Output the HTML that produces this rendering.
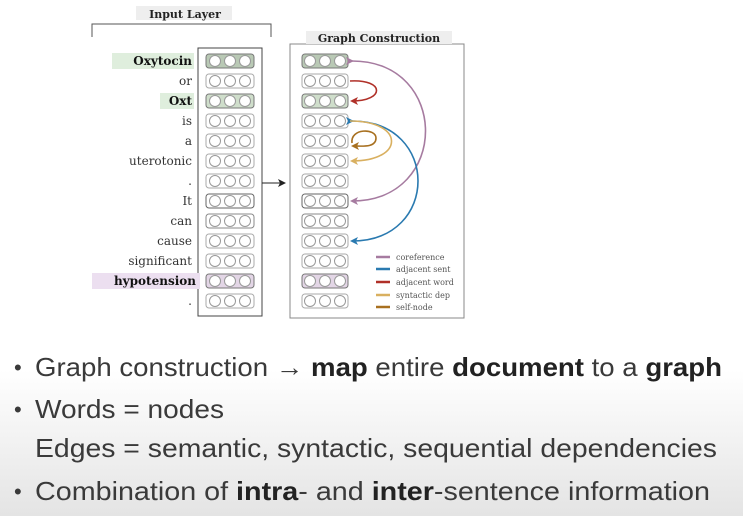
<!DOCTYPE html>
<html><head><meta charset="utf-8"><style>
html,body{margin:0;padding:0;width:743px;height:516px;overflow:hidden;background:linear-gradient(#fff 0,#fff 370px,#e4e4e4 516px);}
svg{display:block}
</style></head><body>
<svg width="743" height="516" xmlns="http://www.w3.org/2000/svg" font-family="DejaVu Serif, Liberation Serif, serif">
<defs>
<marker id="mp" markerWidth="8" markerHeight="8" refX="6" refY="4" orient="auto" markerUnits="userSpaceOnUse"><path d="M0,0 L8,4 L0,8 L2,4z" fill="#a67ba0"/></marker>
<marker id="mb" markerWidth="8" markerHeight="8" refX="6" refY="4" orient="auto" markerUnits="userSpaceOnUse"><path d="M0,0 L8,4 L0,8 L2,4z" fill="#2a7ab0"/></marker>
<marker id="mr" markerWidth="8" markerHeight="8" refX="6" refY="4" orient="auto" markerUnits="userSpaceOnUse"><path d="M0,0 L8,4 L0,8 L2,4z" fill="#b03028"/></marker>
<marker id="mt" markerWidth="8" markerHeight="8" refX="6" refY="4" orient="auto" markerUnits="userSpaceOnUse"><path d="M0,0 L8,4 L0,8 L2,4z" fill="#d9b060"/></marker>
<marker id="mo" markerWidth="8" markerHeight="8" refX="6" refY="4" orient="auto" markerUnits="userSpaceOnUse"><path d="M0,0 L8,4 L0,8 L2,4z" fill="#a87020"/></marker>
<marker id="mk" markerWidth="8" markerHeight="8" refX="6" refY="4" orient="auto" markerUnits="userSpaceOnUse"><path d="M0,0 L8,4 L0,8 L2,4z" fill="#222"/></marker>
<g id="c"><circle cx="-15" cy="0" r="5.5" fill="#fff" stroke="#999" stroke-width="1"/><circle cx="0" cy="0" r="5.5" fill="#fff" stroke="#999" stroke-width="1"/><circle cx="15" cy="0" r="5.5" fill="#fff" stroke="#999" stroke-width="1"/></g>
</defs>
<rect x="136" y="6" width="96" height="14" fill="#eee"/>
<text x="185" y="18" font-size="11" font-weight="bold" text-anchor="middle" fill="#222">Input Layer</text>
<path d="M92,37 V24 H271 V37" fill="none" stroke="#555" stroke-width="1"/>
<rect x="198" y="48" width="64" height="268" fill="#fff" stroke="#444" stroke-width="1"/>
<rect x="290" y="44" width="174" height="274" fill="#fff" stroke="#888" stroke-width="1"/>
<rect x="306" y="31" width="146" height="13" fill="#eee"/>
<text x="379" y="42" font-size="11" font-weight="bold" text-anchor="middle" fill="#222">Graph Construction</text>
<line x1="262" y1="183" x2="284" y2="183" stroke="#222" stroke-width="1" marker-end="url(#mk)"/>
<g font-size="12" text-anchor="end" fill="#333">
<rect x="112" y="53" width="82" height="16" fill="#dfeedd"/>
<rect x="160" y="93" width="34" height="16" fill="#dfeedd"/>
<rect x="92" y="273" width="108" height="16" fill="#ecdff0"/>
<text x="192" y="65" font-weight="bold" fill="#111">Oxytocin</text>
<text x="192" y="85">or</text>
<text x="192" y="105" font-weight="bold" fill="#111">Oxt</text>
<text x="192" y="125">is</text>
<text x="192" y="145">a</text>
<text x="192" y="165">uterotonic</text>
<text x="192" y="185">.</text>
<text x="192" y="205">It</text>
<text x="192" y="225">can</text>
<text x="192" y="245">cause</text>
<text x="192" y="265">significant</text>
<text x="196" y="285" font-weight="bold" fill="#111">hypotension</text>
<text x="192" y="305">.</text>
</g>
<g>
<rect x="206" y="54" width="48" height="14" rx="3" fill="#b9c9b5" stroke="#777"/><use href="#c" x="230" y="61"/>
<rect x="206" y="74" width="48" height="14" rx="3" fill="#fff" stroke="#aaa"/><use href="#c" x="230" y="81"/>
<rect x="206" y="94" width="48" height="14" rx="3" fill="#cfdecb" stroke="#777"/><use href="#c" x="230" y="101"/>
<rect x="206" y="114" width="48" height="14" rx="3" fill="#fff" stroke="#aaa"/><use href="#c" x="230" y="121"/>
<rect x="206" y="134" width="48" height="14" rx="3" fill="#fff" stroke="#aaa"/><use href="#c" x="230" y="141"/>
<rect x="206" y="154" width="48" height="14" rx="3" fill="#fff" stroke="#aaa"/><use href="#c" x="230" y="161"/>
<rect x="206" y="174" width="48" height="14" rx="3" fill="#fff" stroke="#aaa"/><use href="#c" x="230" y="181"/>
<rect x="206" y="194" width="48" height="14" rx="3" fill="#fff" stroke="#666"/><use href="#c" x="230" y="201"/>
<rect x="206" y="214" width="48" height="14" rx="3" fill="#fff" stroke="#888"/><use href="#c" x="230" y="221"/>
<rect x="206" y="234" width="48" height="14" rx="3" fill="#fff" stroke="#aaa"/><use href="#c" x="230" y="241"/>
<rect x="206" y="254" width="48" height="14" rx="3" fill="#fff" stroke="#aaa"/><use href="#c" x="230" y="261"/>
<rect x="206" y="274" width="48" height="14" rx="3" fill="#e3d6e6" stroke="#777"/><use href="#c" x="230" y="281"/>
<rect x="206" y="294" width="48" height="14" rx="3" fill="#fff" stroke="#aaa"/><use href="#c" x="230" y="301"/>
<rect x="302" y="54" width="46" height="14" rx="3" fill="#b9c9b5" stroke="#777"/><use href="#c" x="325" y="61"/>
<rect x="302" y="74" width="46" height="14" rx="3" fill="#fff" stroke="#aaa"/><use href="#c" x="325" y="81"/>
<rect x="302" y="94" width="46" height="14" rx="3" fill="#cfdecb" stroke="#777"/><use href="#c" x="325" y="101"/>
<rect x="302" y="114" width="46" height="14" rx="3" fill="#fff" stroke="#aaa"/><use href="#c" x="325" y="121"/>
<rect x="302" y="134" width="46" height="14" rx="3" fill="#fff" stroke="#aaa"/><use href="#c" x="325" y="141"/>
<rect x="302" y="154" width="46" height="14" rx="3" fill="#fff" stroke="#aaa"/><use href="#c" x="325" y="161"/>
<rect x="302" y="174" width="46" height="14" rx="3" fill="#fff" stroke="#aaa"/><use href="#c" x="325" y="181"/>
<rect x="302" y="194" width="46" height="14" rx="3" fill="#fff" stroke="#666"/><use href="#c" x="325" y="201"/>
<rect x="302" y="214" width="46" height="14" rx="3" fill="#fff" stroke="#888"/><use href="#c" x="325" y="221"/>
<rect x="302" y="234" width="46" height="14" rx="3" fill="#fff" stroke="#aaa"/><use href="#c" x="325" y="241"/>
<rect x="302" y="254" width="46" height="14" rx="3" fill="#fff" stroke="#aaa"/><use href="#c" x="325" y="261"/>
<rect x="302" y="274" width="46" height="14" rx="3" fill="#e3d6e6" stroke="#777"/><use href="#c" x="325" y="281"/>
<rect x="302" y="294" width="46" height="14" rx="3" fill="#fff" stroke="#aaa"/><use href="#c" x="325" y="301"/>
</g>
<g fill="none" stroke-width="1.6">
<path d="M352,61 C450,61 450,201 352,201" stroke="#a67ba0" marker-start="url(#mp)" marker-end="url(#mp)"/>
<path d="M350,81 C385,79 385,101 352,101" stroke="#b03028" marker-end="url(#mr)"/>
<path d="M352,121 C440,121 440,241 352,241" stroke="#2a7ab0" marker-start="url(#mb)" marker-end="url(#mb)"/>
<path d="M350,121 C405,121 405,161 352,161" stroke="#d9b060" marker-end="url(#mt)"/>
<path d="M352,143 C350,128 376,128 376,138 C376,148 362,146 353,146" stroke="#a87020" marker-end="url(#mo)"/>
</g>
<g stroke-width="2.5">
<line x1="376" y1="257" x2="390" y2="257" stroke="#a67ba0"/>
<line x1="376" y1="269" x2="390" y2="269" stroke="#2a7ab0"/>
<line x1="376" y1="282" x2="390" y2="282" stroke="#b03028"/>
<line x1="376" y1="295" x2="390" y2="295" stroke="#d9b060"/>
<line x1="376" y1="307" x2="390" y2="307" stroke="#a87020"/>
</g>
<g font-size="8" fill="#555">
<text x="396" y="260">coreference</text>
<text x="396" y="272">adjacent sent</text>
<text x="396" y="285">adjacent word</text>
<text x="396" y="298">syntactic dep</text>
<text x="396" y="310">self-node</text>
</g>
<g font-family="Liberation Sans, sans-serif" font-size="26" fill="#3a3a3a">
<text x="14" y="375" font-size="22">•</text>
<text x="35" y="376" textLength="687" lengthAdjust="spacingAndGlyphs">Graph construction → <tspan font-weight="bold" fill="#222">map</tspan> entire <tspan font-weight="bold" fill="#222">document</tspan> to a <tspan font-weight="bold" fill="#222">graph</tspan></text>
<text x="14" y="417" font-size="22">•</text>
<text x="35" y="418" textLength="189" lengthAdjust="spacingAndGlyphs">Words = nodes</text>
<text x="35" y="457" textLength="682" lengthAdjust="spacingAndGlyphs">Edges  = semantic, syntactic, sequential dependencies</text>
<text x="14" y="499" font-size="22">•</text>
<text x="35" y="500" textLength="675" lengthAdjust="spacingAndGlyphs">Combination of <tspan font-weight="bold" fill="#222">intra</tspan>- and <tspan font-weight="bold" fill="#222">inter</tspan>-sentence information</text>
</g>
</svg>
</body></html>
